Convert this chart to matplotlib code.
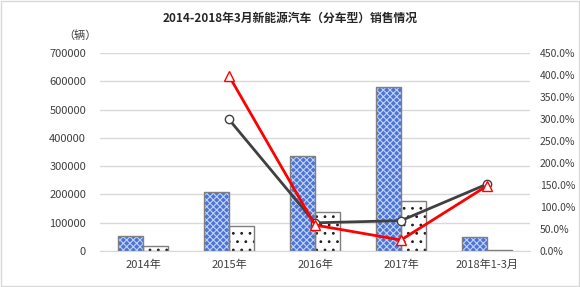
import numpy as np
import matplotlib
matplotlib.use("Agg")
import matplotlib.pyplot as plt
from matplotlib.ticker import FuncFormatter

plt.rcParams['font.family'] = ['Noto Sans CJK SC', 'DejaVu Sans']
plt.rcParams['hatch.linewidth'] = 0.8

# data
years = ['2014年', '2015年', '2016年', '2017年', '2018年1-3月']
sales_a = [53000, 208000, 336000, 580000, 50000]
sales_b = [17000, 88000, 139000, 178000, 3000]
growth_a = [np.nan, 2.99, 0.64, 0.69, 1.52]
growth_b = [np.nan, 3.98, 0.59, 0.25, 1.48]

x = np.arange(len(years))
w = 0.29

fig = plt.figure(figsize=(5.8, 2.87), dpi=100)
ax = fig.add_axes([100 / 580, 36 / 287, 430 / 580, 198 / 287])

# patterned bars: fill + hatch first, then a gray outline on top
ax.bar(x - w / 2, sales_a, w, color='#4a74d6', hatch='xxxxx', edgecolor='#c3d2f4', linewidth=0, zorder=2)
ax.bar(x - w / 2, sales_a, w, fill=False, edgecolor='#7f7f7f', linewidth=1, zorder=3)
ax.bar(x + w / 2, sales_b, w, color='white', hatch='..', edgecolor='#202020', linewidth=0, zorder=2)
ax.bar(x + w / 2, sales_b, w, fill=False, edgecolor='#7f7f7f', linewidth=1, zorder=3)

ax.set_xlim(-0.5, len(years) - 0.5)
ax.set_ylim(0, 700000)
ax.set_yticks(np.arange(0, 700001, 100000))
ax.yaxis.grid(True, color='#d9d9d9', linewidth=1)
ax.set_axisbelow(True)
ax.set_xticks(x)
ax.set_xticklabels(years)
for s in ['top', 'right', 'left']:
    ax.spines[s].set_visible(False)
ax.spines['bottom'].set_color('#d9d9d9')
ax.tick_params(length=0, labelsize=8, colors='#404040', pad=6)
ax.tick_params(axis='y', pad=10)

ax2 = ax.twinx()
ax2.plot(x, growth_a, color='#404040', linewidth=2, marker='o', markersize=6,
         markerfacecolor='white', markeredgecolor='#404040', zorder=4)
ax2.plot(x, growth_b, color='#ff0000', linewidth=2, marker='^', markersize=7,
         markerfacecolor='white', markeredgecolor='#ff0000', zorder=5)
ax2.set_ylim(0, 4.5)
ax2.set_yticks(np.arange(0, 4.51, 0.5))
ax2.yaxis.set_major_formatter(FuncFormatter(lambda v, p: f'{v * 100:.1f}%'))
for s in ax2.spines.values():
    s.set_visible(False)
ax2.tick_params(length=0, labelsize=7.5, colors='#404040', pad=7)

fig.text(0.5, 1 - 18 / 287, '2014-2018年3月新能源汽车（分车型）销售情况', ha='center', va='center',
         fontsize=8.5, fontweight='bold', color='#262626')
fig.text(80 / 580, 1 - 36 / 287, '（辆）', ha='center', va='center', fontsize=8, color='#404040')

# light frame around the chart
fig.patches.append(plt.Rectangle((0.002, 0.003), 0.996, 0.994, transform=fig.transFigure,
                                 fill=False, edgecolor='#d9d9d9', linewidth=1))

fig.savefig('out.png', dpi=100)
